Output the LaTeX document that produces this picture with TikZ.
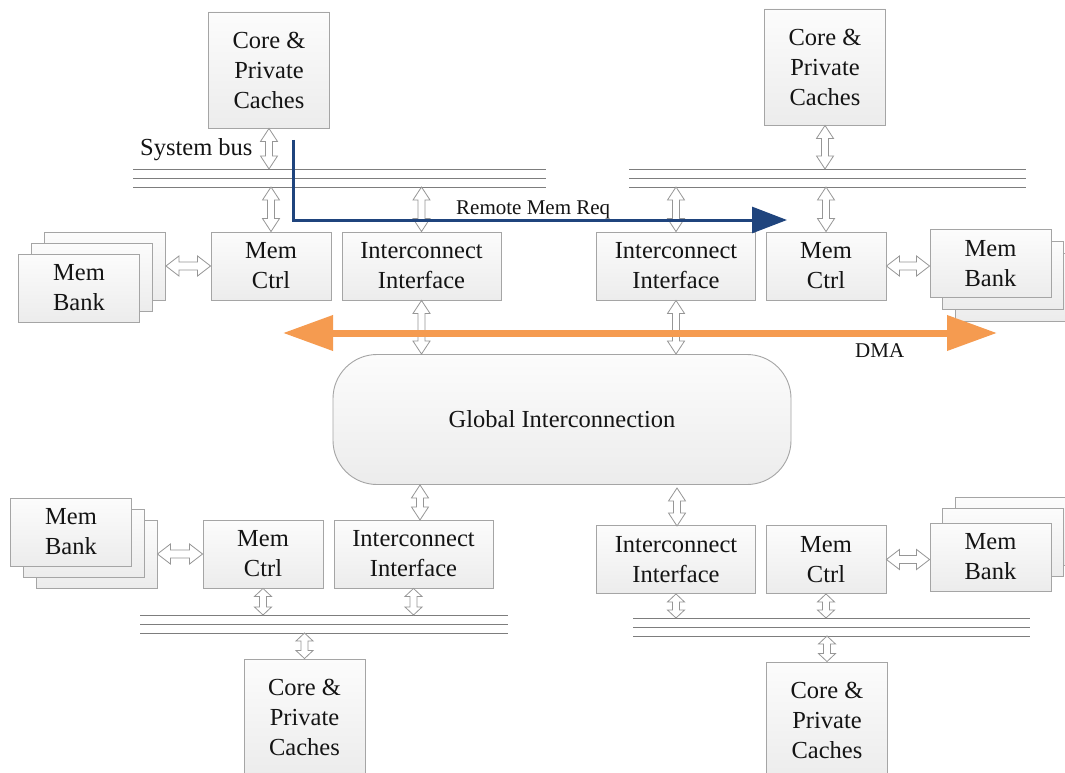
\documentclass[tikz,border=0pt]{standalone}
\usepackage{fontspec}
\setmainfont{Liberation Serif}
\usetikzlibrary{arrows.meta,calc}
\definecolor{boxline}{RGB}{165,165,165}
\definecolor{boxtop}{RGB}{252,252,252}
\definecolor{boxbot}{RGB}{236,236,236}
\definecolor{arrline}{RGB}{150,150,150}
\definecolor{busline}{RGB}{125,125,125}
\definecolor{reqblue}{RGB}{31,68,125}
\definecolor{dmaorange}{RGB}{245,155,80}
\definecolor{txt}{RGB}{20,20,20}
\newcommand\mainfs{\fontsize{24.5}{30}\selectfont}
\newcommand\smallfs{\fontsize{21}{25}\selectfont}
% vertical double block arrow: top point, bottom point, head length
\newcommand\vdarr[3]{%
  \draw[dblarr] let \p1=#1, \p2=#2 in
  (\x1,\y1) -- (\x1+8.5pt,\y1-#3) -- (\x1+3.5pt,\y1-#3) -- (\x1+3.5pt,\y2+#3)
  -- (\x1+8.5pt,\y2+#3) -- (\x1,\y2) -- (\x1-8.5pt,\y2+#3) -- (\x1-3.5pt,\y2+#3)
  -- (\x1-3.5pt,\y1-#3) -- (\x1-8.5pt,\y1-#3) -- cycle;}
% horizontal double block arrow: left point, right point
\newcommand\hdarr[2]{%
  \draw[dblarr] let \p1=#1, \p2=#2 in
  (\x1,\y1) -- (\x1+13pt,\y1+10pt) -- (\x1+13pt,\y1+4pt) -- (\x2-13pt,\y1+4pt)
  -- (\x2-13pt,\y1+10pt) -- (\x2,\y1) -- (\x2-13pt,\y1-10pt) -- (\x2-13pt,\y1-4pt)
  -- (\x1+13pt,\y1-4pt) -- (\x1+13pt,\y1-10pt) -- cycle;}
\tikzset{
  blk/.style={draw=boxline, line width=0.9pt, top color=boxtop, bottom color=boxbot,
    align=center, inner sep=0pt, font=\mainfs, text=txt},
  corebox/.style={blk, minimum width=121pt, minimum height=116pt},
  ctrlbox/.style={blk, minimum width=120pt, minimum height=68pt},
  icbox/.style={blk, minimum width=159pt, minimum height=68pt},
  bankbox/.style={blk, minimum width=121pt, minimum height=68pt},
  dblarr/.style={draw=arrline, fill=white, line width=0.8pt, line join=miter},
  bus/.style={draw=busline, line width=1pt},
  reqarrow/.style={draw=reqblue, line width=3pt, -{Triangle[length=35pt,width=26pt]}},
  dmaarrow/.style={draw=dmaorange, line width=7pt,
    {Triangle[length=50pt,width=34pt]}-{Triangle[length=50pt,width=34pt]}},
  lbl/.style={font=\smallfs, text=txt, inner sep=0pt}
}
\begin{document}
\begin{tikzpicture}[x=1pt,y=-1pt]
\useasboundingbox (0,0) rectangle (1065,773);
\fill[white] (0,0) rectangle (1065,773);

% ---------- memory bank stacks ----------
\node[bankbox] (bankTLc) at (105,266) {};
\node[bankbox] (bankTLb) at (92,277) {};
\node[bankbox] (bankTLa) at (79,288) {Mem\\Bank};

\node[bankbox] (bankTRc) at (1016,287) {};
\node[bankbox] (bankTRb) at (1003,275) {};
\node[bankbox] (bankTRa) at (990.5,263.5) {Mem\\Bank};

\node[bankbox] (bankBLc) at (96.5,554) {};
\node[bankbox] (bankBLb) at (84,543) {};
\node[bankbox] (bankBLa) at (71,532) {Mem\\Bank};

\node[bankbox] (bankBRc) at (1016,531) {};
\node[bankbox] (bankBRb) at (1003,542) {};
\node[bankbox] (bankBRa) at (990.5,557) {Mem\\Bank};

% ---------- cores ----------
\node[corebox] (coreTL) at (269,70) {Core \&\\Private\\Caches};
\node[corebox] (coreTR) at (825,67) {Core \&\\Private\\Caches};
\node[corebox] (coreBL) at (304.5,717) {Core \&\\Private\\Caches};
\node[corebox] (coreBR) at (827,720) {Core \&\\Private\\Caches};

% ---------- controllers and interfaces ----------
\node[ctrlbox] (memTL) at (271,266) {Mem\\Ctrl};
\node[icbox]   (icTL)  at (421.5,266) {Interconnect\\Interface};
\node[icbox]   (icTR)  at (676,266) {Interconnect\\Interface};
\node[ctrlbox] (memTR) at (826,266) {Mem\\Ctrl};
\node[ctrlbox] (memBL) at (263,554) {Mem\\Ctrl};
\node[icbox]   (icBL)  at (413.5,554) {Interconnect\\Interface};
\node[icbox]   (icBR)  at (676,559.5) {Interconnect\\Interface};
\node[ctrlbox] (memBR) at (826,559.5) {Mem\\Ctrl};

% ---------- global interconnection ----------
\node[blk, rounded corners=44pt, minimum width=458pt, minimum height=130pt]
  (gi) at (562,419.5) {Global Interconnection};

% ---------- system buses ----------
\coordinate (bTLa1) at (133,169); \coordinate (bTLa2) at (546,169);
\coordinate (bTLb1) at (133,178); \coordinate (bTLb2) at (546,178);
\coordinate (bTLc1) at (133,187); \coordinate (bTLc2) at (546,187);
\coordinate (bTRa1) at (629,169); \coordinate (bTRa2) at (1026,169);
\coordinate (bTRb1) at (629,178); \coordinate (bTRb2) at (1026,178);
\coordinate (bTRc1) at (629,187); \coordinate (bTRc2) at (1026,187);
\coordinate (bBLa1) at (140,615); \coordinate (bBLa2) at (508,615);
\coordinate (bBLb1) at (140,624); \coordinate (bBLb2) at (508,624);
\coordinate (bBLc1) at (140,633); \coordinate (bBLc2) at (508,633);
\coordinate (bBRa1) at (633,618); \coordinate (bBRa2) at (1030,618);
\coordinate (bBRb1) at (633,627); \coordinate (bBRb2) at (1030,627);
\coordinate (bBRc1) at (633,636); \coordinate (bBRc2) at (1030,636);
\foreach \b in {TLa,TLb,TLc,TRa,TRb,TRc,BLa,BLb,BLc,BRa,BRb,BRc}
  \draw[bus] (b\b1) -- (b\b2);

% helper points for offset arrows
\coordinate (icBLtop) at (420,520);
\coordinate (giBRlow) at (677,488);
\coordinate (icBRtop) at (677,526);

% ---------- double arrows ----------
% top left
\vdarr{(coreTL.south)}{(coreTL.south |- bTLa1)}{13pt}
\vdarr{(memTL.north |- bTLc1)}{(memTL.north)}{13pt}
\vdarr{(icTL.north |- bTLc1)}{(icTL.north)}{13pt}
\vdarr{(icTL.south)}{(icTL.south |- gi.north)}{13pt}
\hdarr{(bankTLc.east)}{(memTL.west)}
% top right
\vdarr{(coreTR.south)}{(coreTR.south |- bTRa1)}{13pt}
\vdarr{(memTR.north |- bTRc1)}{(memTR.north)}{13pt}
\vdarr{(icTR.north |- bTRc1)}{(icTR.north)}{13pt}
\vdarr{(icTR.south)}{(icTR.south |- gi.north)}{13pt}
\hdarr{(memTR.east)}{(bankTRa.west)}
% bottom left
\vdarr{(icBLtop |- gi.south)}{(icBLtop)}{13pt}
\vdarr{(memBL.south)}{(memBL.south |- bBLa1)}{8pt}
\vdarr{(icBL.south)}{(icBL.south |- bBLa1)}{8pt}
\vdarr{(coreBL.north |- bBLc1)}{(coreBL.north)}{8pt}
\hdarr{(bankBLc.east)}{(memBL.west)}
% bottom right
\vdarr{(giBRlow)}{(icBRtop)}{13pt}
\vdarr{(memBR.south)}{(memBR.south |- bBRa1)}{8pt}
\vdarr{(icBR.south)}{(icBR.south |- bBRa1)}{8pt}
\vdarr{(coreBR.north |- bBRc1)}{(coreBR.north)}{8pt}
\hdarr{(memBR.east)}{(bankBRa.west)}

% ---------- remote memory request ----------
\coordinate (reqS) at (293,140);
\coordinate (reqE) at (787,220);
\draw[reqarrow] (reqS) |- (reqE);
\node[lbl, anchor=base west] (lblreq) at (456,214) {Remote Mem Req};
\node[font=\mainfs, text=txt, inner sep=0pt, anchor=base west] (lblbus) at (140,156) {System bus};

% ---------- DMA ----------
\coordinate (dmaL) at (283,333);
\coordinate (dmaR) at (997,333);
\draw[dmaarrow] (dmaL) -- (dmaR);
\node[lbl, anchor=base west] (lbldma) at (855,357) {DMA};
\end{tikzpicture}
\end{document}
